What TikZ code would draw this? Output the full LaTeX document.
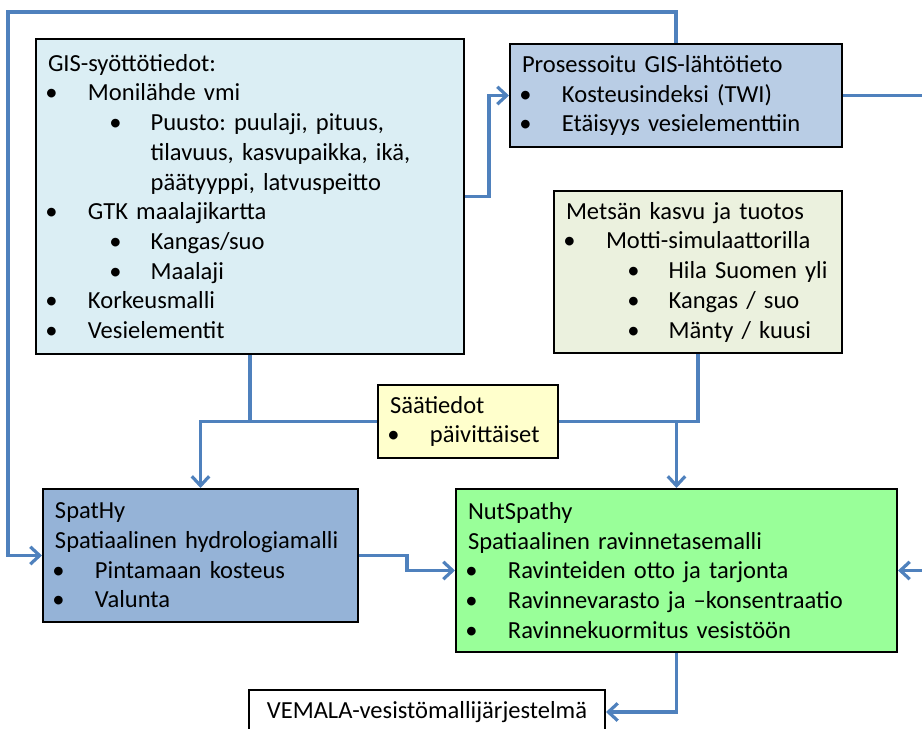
\documentclass[tikz,border=0pt]{standalone}
\usepackage{fontspec}
\setmainfont{Carlito}
\usetikzlibrary{arrows.meta}
\frenchspacing

\definecolor{gisfill}{HTML}{DBEEF4}
\definecolor{procfill}{HTML}{B9CDE5}
\definecolor{metsafill}{HTML}{EBF1DE}
\definecolor{saafill}{HTML}{FFFFCC}
\definecolor{spatfill}{HTML}{95B3D7}
\definecolor{nutfill}{HTML}{99FF99}
\definecolor{linkblue}{HTML}{4F81BD}

% bullets at two levels
\newcommand{\bul}{\hspace*{-2pt}\makebox[32pt][l]{\textbullet}}
\newcommand{\subbul}{\hspace*{46pt}\makebox[31pt][l]{\textbullet}}
\newcommand{\subcont}{\hspace*{77pt}}

\tikzset{
  box/.style={draw=black, line width=1.5pt, anchor=north west, align=left,
    inner xsep=9pt, inner ysep=0pt, font=\fontsize{18.4}{22.3}\selectfont},
  link/.style={draw=linkblue, line width=2.4pt},
  arrow/.style={link, -{Straight Barb[length=7pt,width=13pt]}}
}

\begin{document}
\begin{tikzpicture}[x=0.75pt,y=-0.75pt]
\useasboundingbox (0,0) rectangle (922,729);
\clip (0,0) rectangle (922,729);

% boxes
\node[box, fill=gisfill, minimum width=321pt, minimum height=236.25pt, text width=303pt] (gis) at (35,38)
  {GIS-syöttötiedot:\\
   \bul Monilähde vmi\\
   \subbul Puusto: puulaji, pituus,\\
   \subcont tilavuus, kasvupaikka, ikä,\\
   \subcont päätyyppi, latvuspeitto\\
   \bul GTK maalajikartta\\
   \subbul Kangas/suo\\
   \subbul Maalaji\\
   \bul Korkeusmalli\\
   \bul Vesielementit};
\node[box, fill=procfill, minimum width=249pt, minimum height=77.25pt, text width=231pt] (proc) at (509,43)
  {Prosessoitu GIS-lähtötieto\\
   \bul Kosteusindeksi (TWI)\\
   \bul Etäisyys vesielementtiin};
\node[box, fill=metsafill, minimum width=216pt, minimum height=121.5pt, text width=198pt] (metsa) at (553,190)
  {Metsän kasvu ja tuotos\\
   \bul Motti-simulaattorilla\\
   \subbul Hila~Suomen~yli\\
   \subbul Kangas / suo\\
   \subbul Mänty / kuusi};
\node[box, fill=saafill, minimum width=135pt, minimum height=54.75pt, text width=117pt] (saa) at (377,384)
  {Säätiedot\\
   \bul päivittäiset};
\node[box, fill=spatfill, minimum width=236.25pt, minimum height=99.75pt, text width=218.25pt] (spathy) at (42,488)
  {SpatHy\\
   Spatiaalinen hydrologiamalli\\
   \bul Pintamaan kosteus\\
   \bul Valunta};
\node[box, fill=nutfill, minimum width=330.75pt, minimum height=122.25pt, text width=312.75pt] (nut) at (455,488)
  {NutSpathy\\
   Spatiaalinen ravinnetasemalli\\
   \bul Ravinteiden otto ja tarjonta\\
   \bul Ravinnevarasto ja –konsentraatio\\
   \bul Ravinnekuormitus vesistöön};
\node[box, fill=white, minimum width=267pt, minimum height=33pt] (vemala) at (248,689)
  {VEMALA-vesistömallijärjestelmä};

% connectors
\coordinate (topleft) at (8,12);
\coordinate (outright) at (935,0);
\draw[arrow] (proc.north) |- (topleft) |- (spathy.west);
\draw[arrow] (gis.east) -- ++(24,0) |- (proc.west);
\draw[arrow] (proc.east) -- (proc.east -| outright) |- (nut.east);
\draw[link] (gis.south) -- (gis.south |- saa.west);
\draw[arrow] (saa.west) -| (spathy.north);
\draw[link] (saa.east) -| (metsa.south);
\draw[arrow] (nut.north |- saa.east) -- (nut.north);
\draw[arrow] (spathy.east) -- ++(48,0) |- (nut.west);
\draw[arrow] (nut.south) |- (vemala.east);
\end{tikzpicture}
\end{document}
